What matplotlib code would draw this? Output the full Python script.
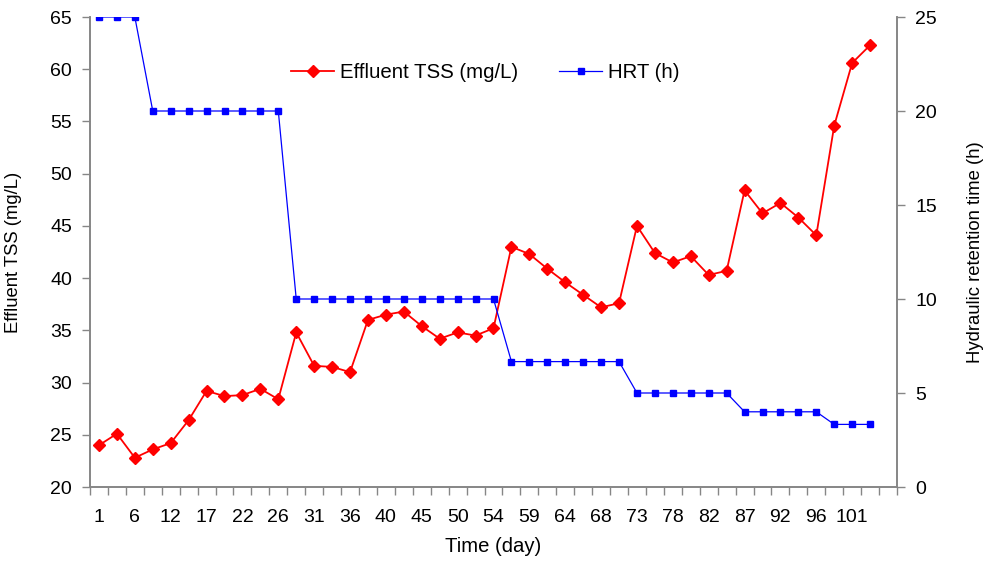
import matplotlib
matplotlib.use("Agg")
import matplotlib.pyplot as plt
import numpy as np

plt.rcParams["font.family"] = ["Liberation Sans", "DejaVu Sans"]
plt.rcParams["font.size"] = 14

# Effluent total suspended solids per sampling, mg/L
tss = [24.0, 25.1, 22.8, 23.6, 24.2, 26.4, 29.2, 28.7, 28.8, 29.4, 28.4,
       34.8, 31.6, 31.5, 31.0, 36.0, 36.5, 36.8, 35.4, 34.2, 34.8, 34.5,
       35.2, 43.0, 42.3, 40.9, 39.6, 38.4, 37.2, 37.6, 45.0, 42.4, 41.5,
       42.1, 40.3, 40.7, 48.4, 46.2, 47.2, 45.8, 44.1, 54.6, 60.6, 62.3]

# Hydraulic retention time per sampling, h
hrt = [25, 25, 25,
       20, 20, 20, 20, 20, 20, 20, 20,
       10, 10, 10, 10, 10, 10, 10, 10, 10, 10, 10, 10,
       6.67, 6.67, 6.67, 6.67, 6.67, 6.67, 6.67,
       5, 5, 5, 5, 5, 5,
       4, 4, 4, 4, 4,
       3.33, 3.33, 3.33]

# Day labels shown under every second sampling
day_labels = ["1", "6", "12", "17", "22", "26", "31", "36", "40", "45", "50",
              "54", "59", "64", "68", "73", "78", "82", "87", "92", "96", "101"]

n_slots = len(tss) + 1
pos = np.arange(len(tss)) + 0.5

fig = plt.figure(figsize=(9.84, 5.61), dpi=100)
ax = fig.add_axes([90 / 984, 74 / 561, 807 / 984, 470 / 561])
ax2 = ax.twinx()

grey = "#868686"

l1, = ax.plot(pos, tss, color="#ff0000", lw=1.3, marker="D", ms=6.5,
              mec="#ff0000", mfc="#ff0000", label="Effluent TSS (mg/L)")
l2, = ax2.plot(pos, hrt, color="#0000ff", lw=0.9, marker="s", ms=4.5,
               mec="#0000ff", mfc="#0000ff", label="HRT (h)")

ax.set_xlim(0, n_slots)
ax.set_ylim(20, 65)
ax.set_yticks(np.arange(20, 66, 5))
ax2.set_ylim(0, 25)
ax2.set_yticks(np.arange(0, 26, 5))

# tick marks between categories, labels centred on every second category
ax.set_xticks(np.arange(0, n_slots + 1))
ax.set_xticklabels([])
ax.set_xticks(pos[::2], minor=True)
ax.set_xticklabels(day_labels, minor=True)
ax.tick_params(axis="x", which="major", direction="out", length=6, width=1,
               color=grey)
ax.tick_params(axis="x", which="minor", length=0, pad=16)
ax.tick_params(axis="y", direction="out", length=6, width=1, color=grey, pad=7)
ax2.tick_params(axis="y", direction="out", length=6, width=1, color=grey, pad=7)

for a in (ax, ax2):
    a.spines["top"].set_visible(False)
    for s in ("left", "right", "bottom"):
        a.spines[s].set_color(grey)
        a.spines[s].set_linewidth(1.2)

ax.set_xlabel("Time (day)", fontsize=14.6, labelpad=8)
ax.set_ylabel("Effluent TSS (mg/L)", fontsize=13.3, labelpad=20)
ax2.set_ylabel("Hydraulic retention time (h)", fontsize=13.3, labelpad=22)

fig.legend(handles=[l1, l2], loc="center left", ncol=2, frameon=False,
           fontsize=14.7,
           bbox_to_anchor=(277 / 984, 1 - 73 / 561), handlelength=2.1,
           handletextpad=0.3, columnspacing=2.0, borderpad=0.2)

fig.savefig("out.png", dpi=100)
